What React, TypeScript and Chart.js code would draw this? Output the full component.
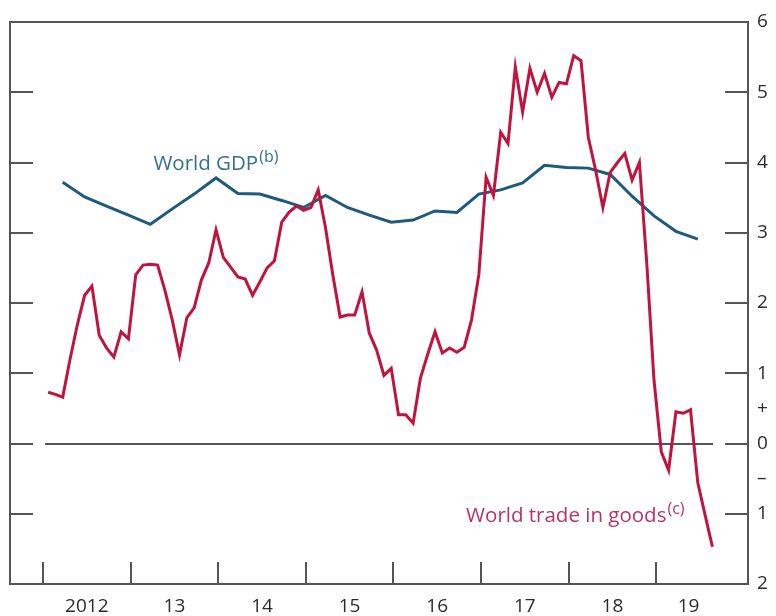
import React, { useEffect, useRef } from "react";
import { Chart, registerables } from "chart.js";

Chart.register(...registerables);

// ---- Data ----
// World trade in goods, monthly, Jan 2012 .. Aug 2019 (per cent)
const TRADE_START_YEAR = 2012;
const tradeMonthly = [
  0.73, 0.70, 0.66, 1.20, 1.69, 2.11, 2.24, 1.54, 1.36, 1.23,
  1.59, 1.49, 2.40, 2.54, 2.55, 2.54, 2.18, 1.76, 1.26, 1.79,
  1.93, 2.33, 2.57, 3.04, 2.65, 2.51, 2.37, 2.34, 2.11, 2.30,
  2.50, 2.60, 3.15, 3.29, 3.38, 3.32, 3.36, 3.61, 3.07, 2.40,
  1.80, 1.83, 1.83, 2.16, 1.57, 1.33, 0.97, 1.07, 0.41, 0.41,
  0.29, 0.93, 1.27, 1.59, 1.29, 1.36, 1.30, 1.37, 1.76, 2.40,
  3.79, 3.53, 4.43, 4.27, 5.36, 4.72, 5.34, 5.00, 5.27, 4.93,
  5.14, 5.12, 5.52, 5.45, 4.36, 3.89, 3.36, 3.86, 4.00, 4.13,
  3.75, 4.00, 2.58, 0.90, -0.12, -0.38, 0.45, 0.43, 0.48, -0.56,
  -1.02, -1.47,
];

// World GDP, quarterly, 2012 Q1 .. 2019 Q2 (per cent)
const GDP_START_YEAR = 2012;
const gdpQuarterly = [
  3.72, 3.51, 3.38, 3.25, 3.12, 3.34, 3.55, 3.78, 3.56, 3.55,
  3.46, 3.36, 3.53, 3.36, 3.25, 3.15, 3.18, 3.31, 3.29, 3.55,
  3.61, 3.71, 3.96, 3.93, 3.92, 3.83, 3.52, 3.24, 3.02, 2.91,
];

const yearLabels = ["2012", "13", "14", "15", "16", "17", "18", "19"];
const yearLabelValues = [2012.5, 2013.5, 2014.5, 2015.5, 2016.5, 2017.5, 2018.5, 2019.37];
const yearTickValues = [2012, 2013, 2014, 2015, 2016, 2017, 2018, 2019];

const yTickValues = [-2, -1, -0.5, 0, 0.5, 1, 2, 3, 4, 5, 6];
const yTickLabels = ["2", "1", "\u2013", "0", "+", "1", "2", "3", "4", "5", "6"];
const yInnerTickValues = [-1, 0, 1, 2, 3, 4, 5];

const gdpLabel = { text: "World GDP", sup: "(b)", x: 2013.26, y: 3.89 };
const tradeLabel = { text: "World trade in goods", sup: "(c)", x: 2016.83, y: -1.12 };

// ---- Styles ----
const TRADE_COLOR = "#c0143f";
const GDP_COLOR = "#1d5a7c";
const TRADE_TEXT = "#b8336a";
const GDP_TEXT = "#33708f";
const AXIS_COLOR = "#555555";
const LABEL_COLOR = "#2b2b2b";
const FONT_FAMILY = "'Open Sans', 'Noto Sans', sans-serif";

const MONTH_OFFSET = 0.7; // position of a period's point inside its month

const tradePoints = tradeMonthly.map((v, i) => ({
  x: TRADE_START_YEAR + (i + MONTH_OFFSET) / 12,
  y: v,
}));
const gdpPoints = gdpQuarterly.map((v, i) => ({
  x: GDP_START_YEAR + (i * 3 + 2 + MONTH_OFFSET) / 12,
  y: v,
}));

const framePlugin = {
  id: "boeFrame",
  beforeDatasetsDraw(chart: any) {
    const { ctx, chartArea: a, scales } = chart;
    const xs = scales.x;
    const ys = scales.y;
    ctx.save();
    ctx.strokeStyle = AXIS_COLOR;
    ctx.lineWidth = 2;
    ctx.beginPath();
    ctx.rect(a.left, a.top, a.right - a.left, a.bottom - a.top);
    ctx.stroke();

    ctx.beginPath();
    for (const v of yInnerTickValues) {
      const py = Math.round(ys.getPixelForValue(v));
      ctx.moveTo(a.left, py);
      ctx.lineTo(a.left + 23, py);
      ctx.moveTo(a.right - 23, py);
      ctx.lineTo(a.right, py);
    }
    const zy = Math.round(ys.getPixelForValue(0));
    ctx.moveTo(a.left + 35, zy);
    ctx.lineTo(a.right - 35, zy);
    for (const yr of yearTickValues) {
      const px = Math.round(xs.getPixelForValue(yr));
      ctx.moveTo(px, a.bottom);
      ctx.lineTo(px, a.bottom - 22);
    }
    ctx.stroke();
    ctx.restore();
  },
  afterDatasetsDraw(chart: any) {
    const { ctx, scales } = chart;
    const xs = scales.x;
    const ys = scales.y;
    const drawLabel = (l: any, color: string) => {
      const px = xs.getPixelForValue(l.x);
      const py = ys.getPixelForValue(l.y);
      ctx.save();
      ctx.fillStyle = color;
      ctx.textAlign = "left";
      ctx.textBaseline = "alphabetic";
      ctx.font = `20.5px ${FONT_FAMILY}`;
      ctx.fillText(l.text, px, py);
      const w = ctx.measureText(l.text).width;
      ctx.font = `16px ${FONT_FAMILY}`;
      ctx.fillText(l.sup, px + w + 1, py - 8);
      ctx.restore();
    };
    drawLabel(gdpLabel, GDP_TEXT);
    drawLabel(tradeLabel, TRADE_TEXT);
  },
};

export default function App() {
  const canvasRef = useRef<HTMLCanvasElement | null>(null);

  useEffect(() => {
    document.body.style.margin = "0";
    const canvas = canvasRef.current;
    if (!canvas) return;
    const chart = new Chart(canvas, {
      type: "line",
      data: {
        datasets: [
          {
            label: "World trade in goods",
            data: tradePoints,
            borderColor: TRADE_COLOR,
            borderWidth: 3,
            pointRadius: 0,
            tension: 0,
            fill: false,
          },
          {
            label: "World GDP",
            data: gdpPoints,
            borderColor: GDP_COLOR,
            borderWidth: 3,
            pointRadius: 0,
            tension: 0,
            fill: false,
          },
        ],
      },
      options: {
        animation: false,
        responsive: false,
        devicePixelRatio: 1,
        layout: { padding: { left: 10, top: 22, right: 0, bottom: 0 } },
        plugins: {
          legend: { display: false },
          tooltip: { enabled: false },
        },
        scales: {
          x: {
            type: "linear",
            min: 2011.623,
            max: 2020.048,
            afterBuildTicks: (s: any) => {
              s.ticks = yearLabelValues.map((v) => ({ value: v }));
            },
            afterFit: (s: any) => {
              s.height = 32;
            },
            ticks: {
              autoSkip: false,
              maxRotation: 0,
              padding: 11,
              color: LABEL_COLOR,
              font: { family: FONT_FAMILY, size: 19 },
              callback: (_v: any, i: number) => yearLabels[i],
            },
            grid: { display: false, drawTicks: false },
            border: { display: false },
          },
          y: {
            type: "linear",
            position: "right",
            min: -2,
            max: 6,
            afterBuildTicks: (s: any) => {
              s.ticks = yTickValues.map((v) => ({ value: v }));
            },
            afterFit: (s: any) => {
              s.width = 28;
            },
            ticks: {
              autoSkip: false,
              padding: 9,
              color: LABEL_COLOR,
              font: { family: FONT_FAMILY, size: 19 },
              callback: (_v: any, i: number) => yTickLabels[i],
            },
            grid: { display: false, drawTicks: false },
            border: { display: false },
          },
        },
      },
      plugins: [framePlugin],
    });
    return () => chart.destroy();
  }, []);

  return (
    <div style={{ width: 776, height: 616, background: "#ffffff" }}>
      <canvas ref={canvasRef} width={776} height={616} style={{ display: "block" }} />
    </div>
  );
}
